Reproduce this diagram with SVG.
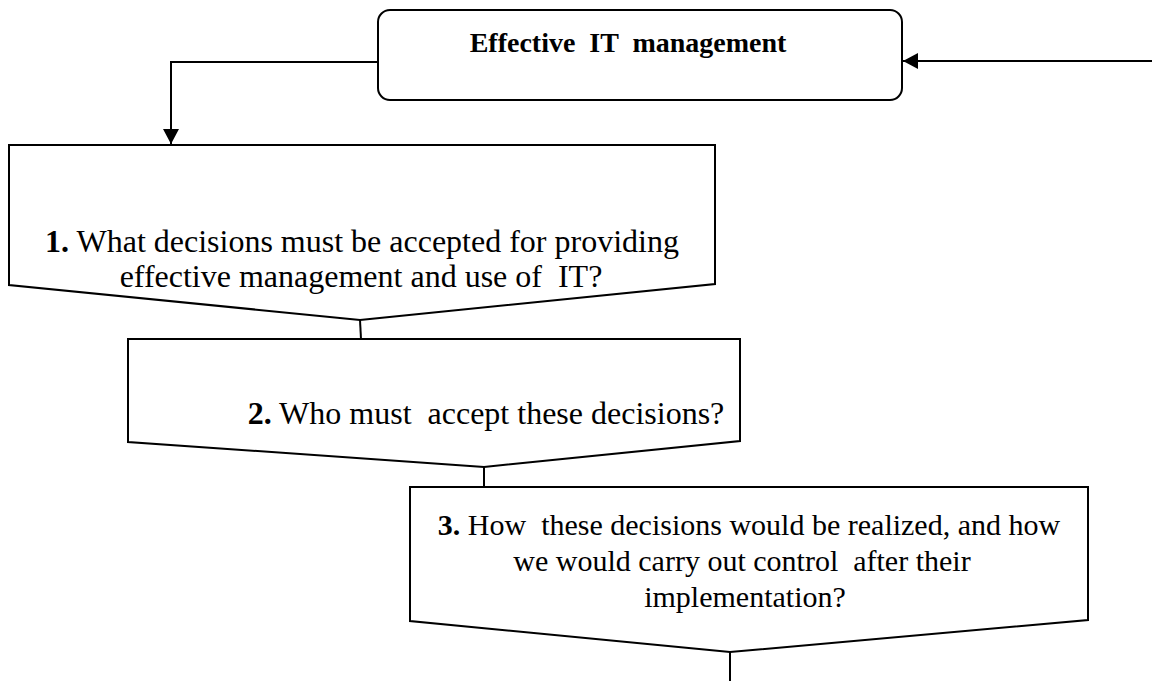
<svg xmlns="http://www.w3.org/2000/svg" width="1152" height="681" viewBox="0 0 1152 681">
<defs>
<style>
.box{fill:#fff;stroke:#000;stroke-width:2;stroke-linejoin:miter}
.conn{fill:none;stroke:#000;stroke-width:2}
.t{font-family:"Liberation Serif","Times New Roman",serif;fill:#000;white-space:pre}
.b{font-weight:bold}
</style>
<marker id="ah" markerUnits="userSpaceOnUse" markerWidth="16" markerHeight="18" refX="15" refY="8" orient="auto">
<path d="M0,0 L15,8 L0,16 Z" fill="#000"/>
</marker>
</defs>
<rect width="1152" height="681" fill="#fff"/>
<g id="connectors">
<polyline class="conn" points="378,62 171,62 171,144" marker-end="url(#ah)"/>
<line class="conn" x1="1152" y1="61" x2="903" y2="61" marker-end="url(#ah)"/>
<line class="conn" x1="360" y1="320" x2="361" y2="339"/>
<line class="conn" x1="484" y1="467" x2="484" y2="487"/>
<line class="conn" x1="730" y1="652" x2="730" y2="681"/>
</g>
<g id="top">
<rect class="box" x="378" y="10" width="524" height="90" rx="12"/>
<text class="t b" x="628" y="52" font-size="28" text-anchor="middle" xml:space="preserve">Effective  IT  management</text>
</g>
<g id="q1">
<polygon class="box" points="9,145 715,145 715,284 360,320 9,285"/>
<text class="t" font-size="32" text-anchor="middle" xml:space="preserve"><tspan x="362" y="252"><tspan class="b">1.</tspan> What decisions must be accepted for providing</tspan><tspan x="361" y="287">effective management and use of  IT?</tspan></text>
</g>
<g id="q2">
<polygon class="box" points="128,339 740,339 740,441 484,467 128,442"/>
<text class="t" font-size="32" text-anchor="middle" xml:space="preserve" x="486" y="424"><tspan class="b">2.</tspan> Who must  accept these decisions?</text>
</g>
<g id="q3">
<polygon class="box" points="410,487 1088,487 1088,620 730,652 410,621"/>
<text class="t" font-size="30" text-anchor="middle" xml:space="preserve"><tspan x="749" y="535"><tspan class="b">3.</tspan> How  these decisions would be realized, and how</tspan><tspan x="742" y="571">we would carry out control  after their</tspan><tspan x="745" y="607">implementation?</tspan></text>
</g>
</svg>
